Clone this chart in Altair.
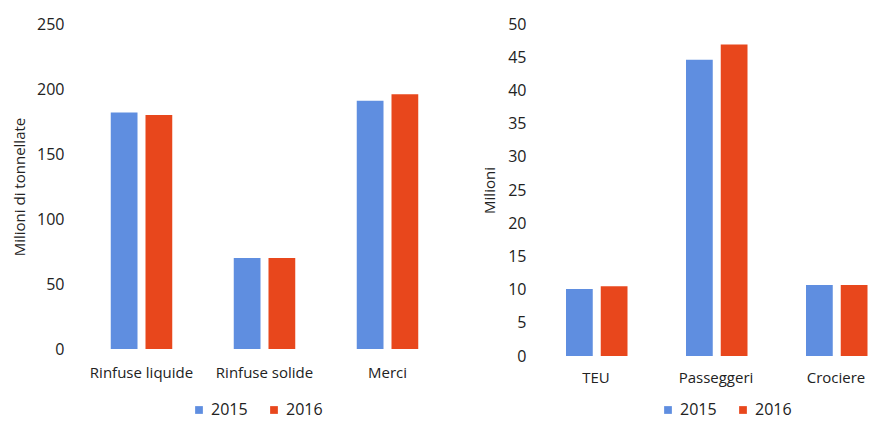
import altair as alt
import pandas as pd

years = ["2015", "2016"]

cat_left = ["Rinfuse liquide", "Rinfuse solide", "Merci"]
left_2015 = [182, 70, 191]
left_2016 = [180, 70, 196]

cat_right = ["TEU", "Passeggeri", "Crociere"]
right_2015 = [10.1, 44.6, 10.7]
right_2016 = [10.5, 46.9, 10.7]

colors = ["#5f8ee0", "#e8471c"]
FONT = "Open Sans"


def build(cats, v15, v16):
    rows = []
    for c, a, b in zip(cats, v15, v16):
        rows.append({"cat": c, "year": years[0], "val": a})
        rows.append({"cat": c, "year": years[1], "val": b})
    return pd.DataFrame(rows)


df_l = build(cat_left, left_2015, left_2016)
df_r = build(cat_right, right_2015, right_2016)


def panel(df, cats, ymax, ystep, ytitle, w, h, po, align, lx, ly, lpad, tpad):
    return alt.Chart(df).mark_bar().encode(
        x=alt.X("cat:N", sort=cats,
                scale=alt.Scale(paddingInner=0.5, paddingOuter=po, align=align),
                axis=alt.Axis(title=None, labelAngle=0, domain=False, ticks=False,
                              labelFontSize=15, labelFont=FONT, labelColor="#222222",
                              labelPadding=lpad)),
        xOffset=alt.XOffset("year:N", scale=alt.Scale(paddingInner=0.23)),
        y=alt.Y("val:Q", scale=alt.Scale(domain=[0, ymax], nice=False),
                axis=alt.Axis(title=ytitle, values=list(range(0, ymax + 1, ystep)),
                              grid=False, domain=False, ticks=False,
                              labelFontSize=16, labelFont=FONT, labelColor="#222222",
                              labelPadding=16, titleFontSize=15, titleFont=FONT,
                              titleFontWeight="normal", titleColor="#222222",
                              titlePadding=tpad)),
        color=alt.Color("year:N", scale=alt.Scale(domain=years, range=colors),
                        legend=alt.Legend(title=None, orient="none", legendX=lx, legendY=ly,
                                          direction="horizontal", symbolType="square",
                                          symbolSize=60, labelFontSize=16, labelFont=FONT,
                                          labelColor="#222222", columnPadding=18,
                                          labelOffset=4)),
    ).properties(width=w, height=h)


left = panel(df_l, cat_left, 250, 50, "Milioni di tonnellate", 369, 325, 0.25, 0.5,
             111, 378, 16, 9)
right = panel(df_r, cat_right, 50, 5, "Milioni", 324, 332, 0.1, 1.0,
              118, 378, 14, 10)

chart = alt.hconcat(left, right, spacing=33).resolve_scale(
    color="independent", x="independent", y="independent"
).resolve_legend(color="independent").properties(
    padding={"top": 8, "left": 4, "right": 0, "bottom": 4}
).configure(background="#ffffff").configure_view(stroke=None, strokeWidth=0)

chart.save("out.html", embed_options={"renderer": "svg", "actions": False})
